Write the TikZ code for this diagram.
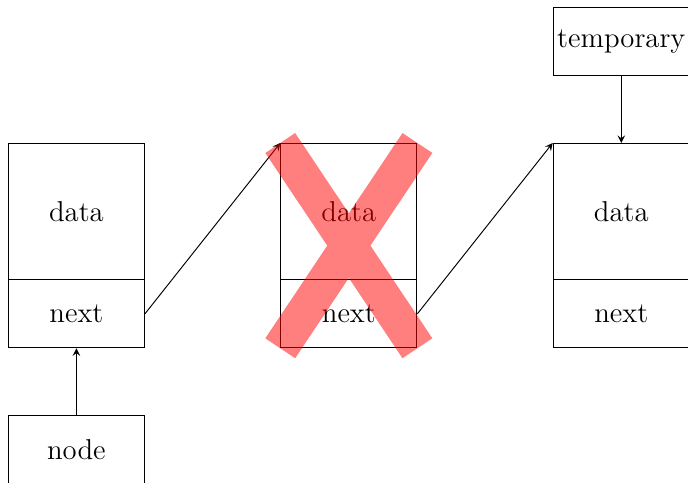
\documentclass[tikz,border=0pt]{standalone}
\usetikzlibrary{arrows.meta}

\begin{document}
\begin{tikzpicture}[font=\large, >=stealth,
        cell/.style={draw, minimum width=2cm, inner sep=0pt},
        datacell/.style={cell, minimum height=2cm},
        nextcell/.style={cell, minimum height=1cm}]
        \useasboundingbox (-0.122,0.015) rectangle (9.98,7.107);

        % Draw first element
        \node[datacell] (data1) at (1,4) {data};
        \node[nextcell] (next1) at (1,2.5) {next};
        \node[nextcell] (node) at (1,0.5) {node};

        % Draw second element
        \node[datacell] (data2) at (5,4) {data};
        \node[nextcell] (next2) at (5,2.5) {next};

        % Draw third element
        \node[datacell] (data3) at (9,4) {data};
        \node[nextcell] (next3) at (9,2.5) {next};
        \node[nextcell] (temporary) at (9,6.5) {temporary};

        % Pointers
        \draw[->] (node) -- (next1);
        \draw[->] (next1.east) -- (data2.north west);
        \draw[->] (next2.east) -- (data3.north west);
        \draw[->] (temporary) -- (data3);

        % Cross out the second element
        \draw[red, opacity=0.5, line width=15pt]
            (data2.north west) -- (next2.south east)
            (data2.north east) -- (next2.south west);
    \end{tikzpicture}
\end{document}
